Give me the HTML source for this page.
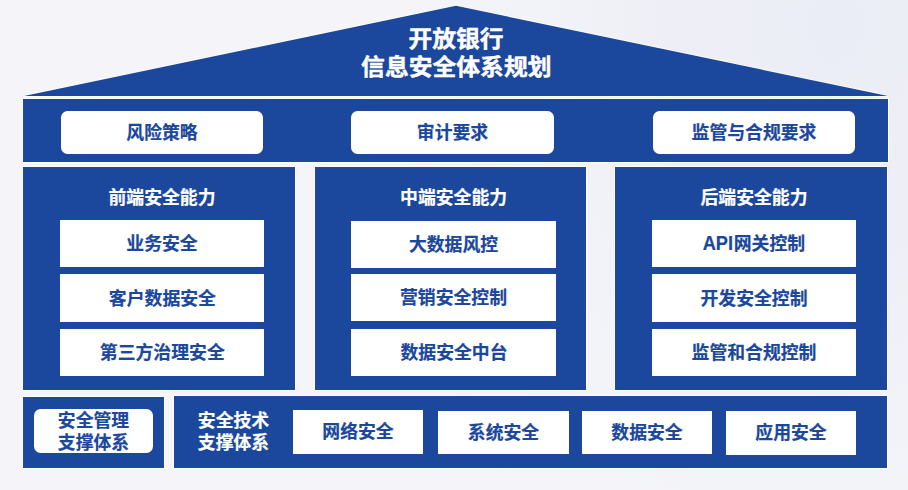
<!DOCTYPE html>
<html lang="zh-CN">
<head>
<meta charset="utf-8">
<title>开放银行信息安全体系规划</title>
<style>
html,body{margin:0;padding:0;}
body{width:908px;height:490px;overflow:hidden;position:relative;
  font-family:"Liberation Sans","Noto Sans CJK SC",sans-serif;font-weight:bold;
  background:#f5f5f9;background-image:radial-gradient(ellipse 52% 130% at 92% 5%,#ebedf6 0%,#eeeff6 35%,#f2f3f8 62%,#f5f5f9 100%);}
.abs{position:absolute;box-sizing:border-box;}
.blue{background:#1b479c;box-shadow:0 0 0 1px rgba(255,255,255,0.8);}
.wb{background:#fff;color:#1b479c;-webkit-text-stroke:0.2px #1b479c;font-size:17.85px;display:flex;align-items:center;justify-content:center;white-space:nowrap;text-align:center;}
.rd{border-radius:6.5px;}
.hd{color:#fff;-webkit-text-stroke:0.2px #fff;font-size:17.85px;display:flex;align-items:center;justify-content:center;white-space:nowrap;text-align:center;}
#roof{position:absolute;left:0;top:0;width:908px;height:100px;}
.title{color:#fff;-webkit-text-stroke:0.45px #fff;font-size:23.8px;line-height:28px;text-align:center;white-space:nowrap;width:400px;transform:scaleY(0.94);}
.two{line-height:22px;}
.lat{font-style:normal;display:inline-block;transform:scale(1.02,1.11);transform-origin:50% 81%;margin:0 0.9px 0 0.3px;}
.wb span,.hd span{position:relative;display:block;}
</style>
</head>
<body>
<svg id="roof" viewBox="0 0 908 100">
  <polygon points="456,5.8 888,96 24,96" fill="#1b479c" stroke="#fff" stroke-opacity="0.85" stroke-width="1.6" stroke-linejoin="miter" paint-order="stroke"/>
</svg>
<div class="abs title" style="left:256px;top:25px;">开放银行</div>
<div class="abs title" style="left:256.3px;top:53px;">信息安全体系规划</div>
<div class="abs blue" style="left:23px;top:99px;width:865px;height:63px;"></div>
<div class="abs blue" style="left:23px;top:167px;width:272px;height:223px;"></div>
<div class="abs blue" style="left:315px;top:167px;width:271px;height:223px;"></div>
<div class="abs blue" style="left:615px;top:167px;width:272px;height:223px;"></div>
<div class="abs blue" style="left:23px;top:397px;width:141px;height:71px;"></div>
<div class="abs blue" style="left:174px;top:396px;width:713px;height:72px;"></div>
<div class="abs hd" style="left:23px;top:183px;width:278px;height:28px;"><span style="left:0px;top:-1px;">前端安全能力</span></div>
<div class="abs hd" style="left:315px;top:183px;width:278px;height:28px;"><span style="left:-0.4px;top:-1px;">中端安全能力</span></div>
<div class="abs hd" style="left:615px;top:183px;width:278px;height:28px;"><span style="left:0px;top:-1px;">后端安全能力</span></div>
<div class="abs hd two" style="left:174px;top:409px;width:119px;height:44px;"><span style="left:0px;top:1px;">安全技术<br>支撑体系</span></div>
<div class="abs wb rd" style="left:61px;top:111px;width:202px;height:43px;"><span style="left:0px;top:-2px;">风险策略</span></div>
<div class="abs wb rd" style="left:351px;top:111px;width:203px;height:43px;"><span style="left:0px;top:-2px;">审计要求</span></div>
<div class="abs wb rd" style="left:653px;top:111px;width:202px;height:43px;"><span style="left:0px;top:-2px;">监管与合规要求</span></div>
<div class="abs wb" style="left:60px;top:220px;width:204px;height:47px;"><span style="left:0px;top:-2px;">业务安全</span></div>
<div class="abs wb" style="left:60px;top:274px;width:204px;height:48px;"><span style="left:0.4px;top:-1px;">客户数据安全</span></div>
<div class="abs wb" style="left:60px;top:329px;width:204px;height:47px;"><span style="left:0.3px;top:-2px;">第三方治理安全</span></div>
<div class="abs wb" style="left:351px;top:221px;width:205px;height:47px;"><span style="left:0px;top:-2px;">大数据风控</span></div>
<div class="abs wb" style="left:351px;top:274px;width:205px;height:47px;"><span style="left:0px;top:-2px;">营销安全控制</span></div>
<div class="abs wb" style="left:351px;top:329px;width:205px;height:47px;"><span style="left:0.5px;top:-2px;">数据安全中台</span></div>
<div class="abs wb" style="left:652px;top:220px;width:204px;height:47px;"><span style="left:0px;top:-2px;"><i class="lat">API</i>网关控制</span></div>
<div class="abs wb" style="left:652px;top:274px;width:204px;height:48px;"><span style="left:0px;top:-1px;">开发安全控制</span></div>
<div class="abs wb" style="left:652px;top:329px;width:204px;height:47px;"><span style="left:0px;top:-2px;">监管和合规控制</span></div>
<div class="abs wb rd two" style="left:34px;top:409px;width:119px;height:44px;"><span style="left:0px;top:1px;">安全管理<br>支撑体系</span></div>
<div class="abs wb" style="left:293px;top:410px;width:130px;height:44px;"><span style="left:0px;top:-2px;">网络安全</span></div>
<div class="abs wb" style="left:438px;top:411px;width:131px;height:43px;"><span style="left:0px;top:-2px;">系统安全</span></div>
<div class="abs wb" style="left:582px;top:411px;width:130px;height:43px;"><span style="left:0px;top:-2px;">数据安全</span></div>
<div class="abs wb" style="left:726px;top:411px;width:130px;height:44px;"><span style="left:0px;top:-2px;">应用安全</span></div>
</body>
</html>
